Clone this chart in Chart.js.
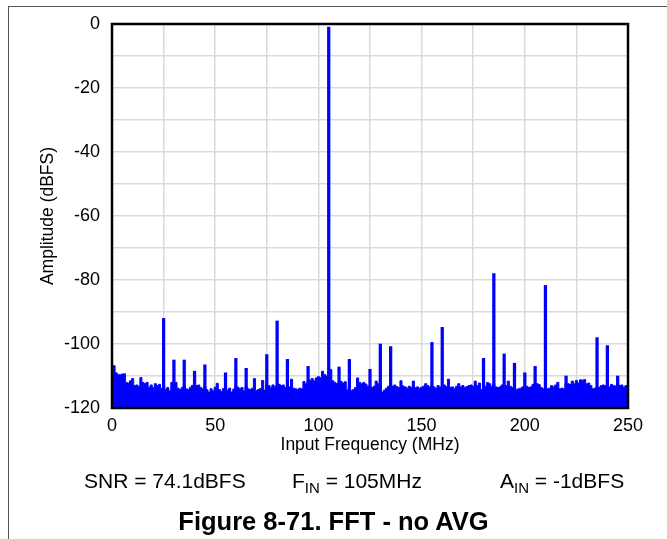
<!DOCTYPE html>
<html>
<head>
<meta charset="utf-8">
<script src="https://cdn.jsdelivr.net/npm/chart.js@4.4.1/dist/chart.umd.min.js"></script>
<style>
  html, body { margin: 0; padding: 0; background: #fff; }
  body { width: 667px; height: 539px; position: relative; overflow: hidden; font-family: "Liberation Sans", Arial, sans-serif; }
  #frame { position: absolute; left: 8px; top: 6px; width: 660px; height: 600px; border-left: 1px solid #555; border-top: 1px solid #555; box-sizing: border-box; }
  canvas { position: absolute; left: 0; top: 0; }
  .note { position: absolute; top: 468px; font-size: 21px; color: #000; white-space: nowrap; line-height: 26px; }
  .note sub { font-size: 15px; vertical-align: -5px; line-height: 0; }
  #title { position: absolute; top: 506px; left: 0; width: 667px; text-align: center; font-size: 25.5px; font-weight: bold; white-space: nowrap; line-height: 30px; }
</style>
</head>
<body>
<div id="frame"></div>
<canvas id="c" width="667" height="539"></canvas>
<div class="note" style="left:84px">SNR = 74.1dBFS</div>
<div class="note" style="left:292px">F<sub>IN</sub> = 105MHz</div>
<div class="note" style="left:500px">A<sub>IN</sub> = -1dBFS</div>
<div id="title">Figure 8-71. FFT - no AVG</div>
<script>
// Noise-floor envelope, one value per MHz from 0 to 250 MHz (dBFS)
const noiseFloor = [
  -106.6,-106.8,-109,-109.5,-109.6,-109.4,-109.3,-112,-112.2,-111.5,
  -110.8,-113,-112.8,-113.2,-110.5,-112,-112.4,-112,-113.5,-112.8,
  -113.6,-112.4,-113,-112.6,-113.8,-113,-114.2,-113.6,-114.5,-112,
  -113.2,-112,-113.8,-114.2,-113.6,-113,-114,-114.2,-113.5,-112.9,
  -113.2,-113,-112.8,-113.6,-114,-113.2,-114.3,-115,-114,-114.6,
  -113.5,-112.3,-114.2,-114.8,-113.9,-113.4,-114.4,-113.8,-115,-114.1,
  -113.2,-113.5,-114,-113.6,-114.7,-113.3,-114,-114.2,-113.8,-110.8,
  -114.5,-114.2,-113.9,-111.4,-114.4,-113,-113,-113.5,-112.8,-113.4,
  -112.8,-112.6,-113,-112.8,-113.6,-113.4,-113.4,-111,-113.8,-114,
  -114.2,-113.8,-114,-111.7,-112.5,-111.7,-111.3,-110.8,-111.5,-110.6,
  -110.2,-110.5,-108.5,-109.5,-110,-109,-108,-111.5,-112,-112.4,
  -112,-111.7,-112.2,-111.8,-114.3,-113,-114.5,-114.2,-113.6,-110.6,
  -112,-112.4,-112,-112.5,-113.2,-113,-113.7,-113.2,-111.6,-112.4,
  -113.5,-115,-114.4,-113.8,-113.2,-113,-113.2,-112.8,-113.3,-113.6,
  -111.5,-113.1,-113.4,-113.8,-113.2,-113.5,-111.6,-113.6,-113.4,-113.8,
  -113.5,-113.2,-112.4,-113,-113.4,-113.2,-113.4,-113.8,-113,-113.5,
  -113,-112.8,-113.3,-111,-113.5,-113.4,-113.9,-113.2,-112.4,-113.4,
  -113,-113.6,-113.3,-113,-112.8,-113.2,-111.6,-113,-112.2,-114.2,
  -114,-113.2,-112,-112.4,-113.2,-112.4,-113.4,-113.6,-113.4,-112.8,
  -113,-113,-111.6,-113.2,-113.6,-114,-114.2,-114,-113.8,-113.4,
  -113.4,-113.2,-113.6,-113.4,-112.6,-112.8,-112.4,-112.7,-113.6,-114,
  -114.2,-114,-113.8,-113,-113.4,-112.8,-112,-114,-113.8,-114,
  -112.4,-112.4,-112.6,-111.6,-112.4,-111.4,-112.2,-111.2,-111.3,-111.1,
  -112.4,-112.2,-113,-114,-113.8,-114.2,-113.6,-113,-112.8,-113,
  -113.2,-113.4,-112.6,-113,-113.1,-112.5,-113,-112.8,-113.4,-113,
  -113.2
];
// Fundamental and spurs
const spurFreqMHz = [25, 30, 35, 40, 45, 55, 60, 65, 75, 80, 85, 95, 105, 110, 115, 125, 130, 135, 155, 160, 180, 185, 190, 195, 200, 205, 210, 220, 235, 240, 245];
const spurLevelDBFS = [-92, -105, -105, -108.5, -106.5, -109, -104.5, -107.6, -103.3, -92.8, -104.8, -107, -1, -107.2, -104.8, -107.9, -100, -100.8, -99.5, -94.8, -104.5, -78, -103.1, -106, -109, -107, -81.7, -110, -98, -100.5, -110];
const xTicksMHz = [0, 50, 100, 150, 200, 250];
const yTicksDBFS = [0, -20, -40, -60, -80, -100, -120];

const noisePoints = noiseFloor.map((v, i) => ({ x: i, y: v }));
const spurBars = spurFreqMHz.map((f, i) => ({ x: f, y: [-120, spurLevelDBFS[i]] }));

const BLUE = '#0000ff';
const FONT = '"Liberation Sans", Arial';
const frameBorder = {
  id: 'frameBorder',
  afterDraw(chart) {
    const a = chart.chartArea, ctx = chart.ctx;
    ctx.save();
    ctx.strokeStyle = '#000';
    ctx.lineWidth = 2.5;
    ctx.strokeRect(a.left, a.top, a.right - a.left, a.bottom - a.top);
    ctx.restore();
  }
};

new Chart(document.getElementById('c'), {
  type: 'bar',
  data: {
    datasets: [
      {
        type: 'line',
        data: noisePoints,
        borderColor: BLUE,
        backgroundColor: BLUE,
        borderWidth: 1,
        pointRadius: 0,
        stepped: 'middle',
        fill: 'start',
        order: 2
      },
      {
        type: 'bar',
        data: spurBars,
        backgroundColor: BLUE,
        borderWidth: 0,
        barThickness: 2.6,
        order: 1
      }
    ]
  },
  options: {
    responsive: false,
    animation: false,
    devicePixelRatio: 1,
    layout: { padding: { left: 38, right: 39, top: 24, bottom: 83 } },
    plugins: { legend: { display: false }, tooltip: { enabled: false } },
    scales: {
      x: {
        type: 'linear',
        min: 0, max: 250,
        offset: false,
        grid: { color: '#d9d9d9', lineWidth: 1.5, drawTicks: false, offset: false },
        border: { display: false },
        afterBuildTicks: s => { s.ticks = []; for (let v = 0; v <= 250; v += 25) s.ticks.push({ value: v }); },
        ticks: {
          padding: 7,
          color: '#000',
          font: { family: FONT, size: 18 },
          maxRotation: 0,
          autoSkip: false,
          callback: v => xTicksMHz.includes(v) ? String(v) : ''
        },
        title: { display: true, text: 'Input Frequency (MHz)', color: '#000', padding: 0, font: { family: FONT, size: 17.5 } },
        afterFit: s => { s.height = 48; }
      },
      y: {
        min: -120, max: 0,
        grid: { color: '#d9d9d9', lineWidth: 1.5, drawTicks: false },
        border: { display: false },
        afterBuildTicks: s => { s.ticks = []; for (let v = -120; v <= 0; v += 10) s.ticks.push({ value: v }); },
        ticks: {
          padding: 12,
          color: '#000',
          font: { family: FONT, size: 18 },
          autoSkip: false,
          callback: v => yTicksDBFS.includes(v) ? String(v) : ''
        },
        title: { display: true, text: 'Amplitude (dBFS)', color: '#000', padding: 0, font: { family: FONT, size: 17.5 } },
        afterFit: s => { s.width = 74; }
      }
    }
  },
  plugins: [frameBorder]
});
</script>
</body>
</html>
